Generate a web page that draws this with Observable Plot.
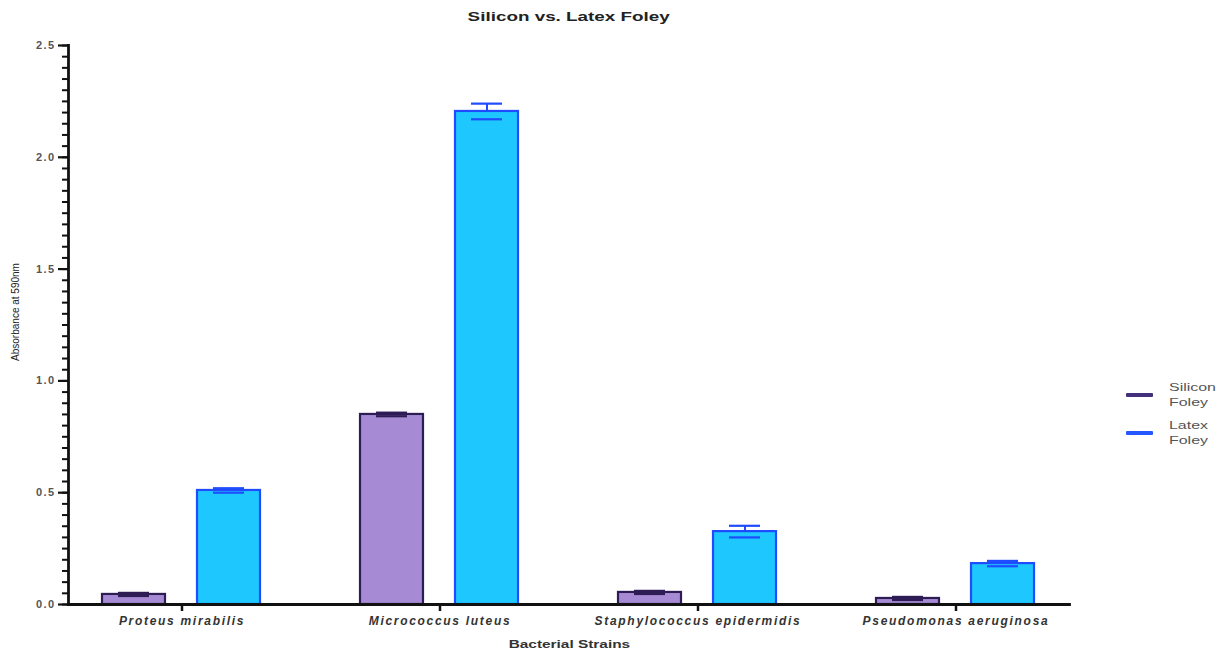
<!DOCTYPE html>
<html><head><meta charset="utf-8">
<script src="https://cdn.jsdelivr.net/npm/d3@7"></script>
<script src="https://cdn.jsdelivr.net/npm/@observablehq/plot@0.6"></script>
<style>
body{margin:0;background:#fff;font-family:"Liberation Sans",Arial,sans-serif}
#wrap{position:relative;width:1225px;height:650px;overflow:hidden}
#title{position:absolute;left:0;top:9px;width:1138px;text-align:center;font-weight:bold;font-size:13px;color:#222}
#title span,#xlabel span{display:inline-block;transform:scaleX(1.45);transform-origin:center}
#chart{position:absolute;left:0;top:32px}
#xlabel{position:absolute;left:0;top:638px;width:1138px;text-align:center;font-weight:bold;font-size:11px;color:#333}
#xlabel span{transform:scaleX(1.4)}
#ylabel{position:absolute;left:15px;top:312px;transform:translate(-50%,-50%) rotate(-90deg);white-space:nowrap;font-size:10px;color:#222}
#legend{position:absolute;left:1126px;top:380px;font-size:11px;color:#555}
.item{display:flex;align-items:center;height:30px;margin-bottom:8px}
.sw{width:27px;height:4px;margin-right:16px;border-radius:1px}
.lab{line-height:15px;transform:scaleX(1.45);transform-origin:left center}
.chart g[aria-label="fx-axis tick label"] text{letter-spacing:1.7px}
.chart g[aria-label="y-axis tick label"] text{letter-spacing:1.4px}
</style></head>
<body><div id="wrap"><div id="title"></div><div id="chart"></div><div id="xlabel"></div><div id="ylabel"></div><div id="legend"></div></div>
<script>
const titleText = "Silicon vs. Latex Foley";
const xTitle = "Bacterial Strains";
const yTitle = "Absorbance at 590nm";
const strains = ["Proteus mirabilis", "Micrococcus luteus", "Staphylococcus epidermidis", "Pseudomonas aeruginosa"];
const series = ["Silicon Foley", "Latex Foley"];
const siliconMean = [0.045, 0.85, 0.054, 0.027];
const siliconErr = [0.007, 0.008, 0.007, 0.007];
const latexMean = [0.51, 2.205, 0.326, 0.183];
const latexErr = [0.01, 0.035, 0.026, 0.012];
const yTicks = [0, 0.5, 1.0, 1.5, 2.0, 2.5];
const fills = ["#a68bd4", "#1ec8ff"];
const strokes = ["#2e1d55", "#1f4cff"];
const swatches = ["#44307a", "#2457ff"];

const sp = t => { const s = document.createElement("span"); s.textContent = t; return s; };
document.getElementById("title").appendChild(sp(titleText));
document.getElementById("xlabel").appendChild(sp(xTitle));
document.getElementById("ylabel").textContent = yTitle;

const means = [siliconMean, latexMean];
const errs = [siliconErr, latexErr];
const rows = [];
series.forEach((s, si) => strains.forEach((st, i) => rows.push({
  strain: st, series: s, si, mean: means[si][i], lo: means[si][i] - errs[si][i], hi: means[si][i] + errs[si][i]
})));

const minor = d3.range(0, 2.5001, 0.05);

const marks = [];
series.forEach((s, si) => {
  const d = rows.filter(r => r.si === si);
  marks.push(Plot.barY(d, {fx: "strain", x: "series", y: "mean", fill: fills[si], stroke: strokes[si], strokeWidth: 2.2}));
  marks.push(Plot.ruleX(d, {fx: "strain", x: "series", y1: "mean", y2: "hi", stroke: strokes[si], strokeWidth: 2}));
  marks.push(Plot.tickY(d, {fx: "strain", x: "series", y: "hi", stroke: strokes[si], strokeWidth: 2.2, insetLeft: 16, insetRight: 16}));
  marks.push(Plot.tickY(d, {fx: "strain", x: "series", y: "lo", stroke: strokes[si], strokeWidth: 2.2, insetLeft: 16, insetRight: 16}));
});
marks.push(Plot.axisY({ticks: minor, tickSize: 6, tickFormat: () => "", strokeWidth: 2, stroke: "#111"}));
marks.push(Plot.axisY({ticks: yTicks, tickSize: 10, tickPadding: 3, tickFormat: d3.format(".1f"), strokeWidth: 2.2, stroke: "#111", fill: "#555", fontWeight: "bold", fontSize: 11, label: null}));
marks.push(Plot.axisFx({anchor: "bottom", tickSize: 7, tickPadding: 5, strokeWidth: 2.5, stroke: "#111", fill: "#333", fontWeight: "bold", fontStyle: "italic", fontSize: 12, label: null}));
marks.push(Plot.frame({anchor: "bottom", facet: "super", stroke: "#111", strokeWidth: 2.8}));
marks.push(Plot.frame({anchor: "left", facet: "super", stroke: "#111", strokeWidth: 2.8}));

const chart = Plot.plot({
  width: 1225, height: 618,
  marginLeft: 68, marginRight: 155, marginTop: 13, marginBottom: 46,
  className: "chart",
  style: {fontFamily: "'Liberation Sans', Arial, sans-serif", background: "#fff"},
  fx: {domain: strains, paddingInner: 0.12, paddingOuter: 0, label: null},
  x: {domain: series, paddingInner: 1/3, paddingOuter: 0.35, axis: null},
  y: {domain: [0, 2.5], label: null},
  marks
});
document.getElementById("chart").appendChild(chart);

const leg = document.getElementById("legend");
series.forEach((s, si) => {
  const it = document.createElement("div"); it.className = "item";
  const sw = document.createElement("div"); sw.className = "sw"; sw.style.background = swatches[si];
  const lab = document.createElement("div"); lab.className = "lab";
  lab.innerHTML = s.split(" ").join("<br>");
  it.appendChild(sw); it.appendChild(lab); leg.appendChild(it);
});
</script></body></html>
